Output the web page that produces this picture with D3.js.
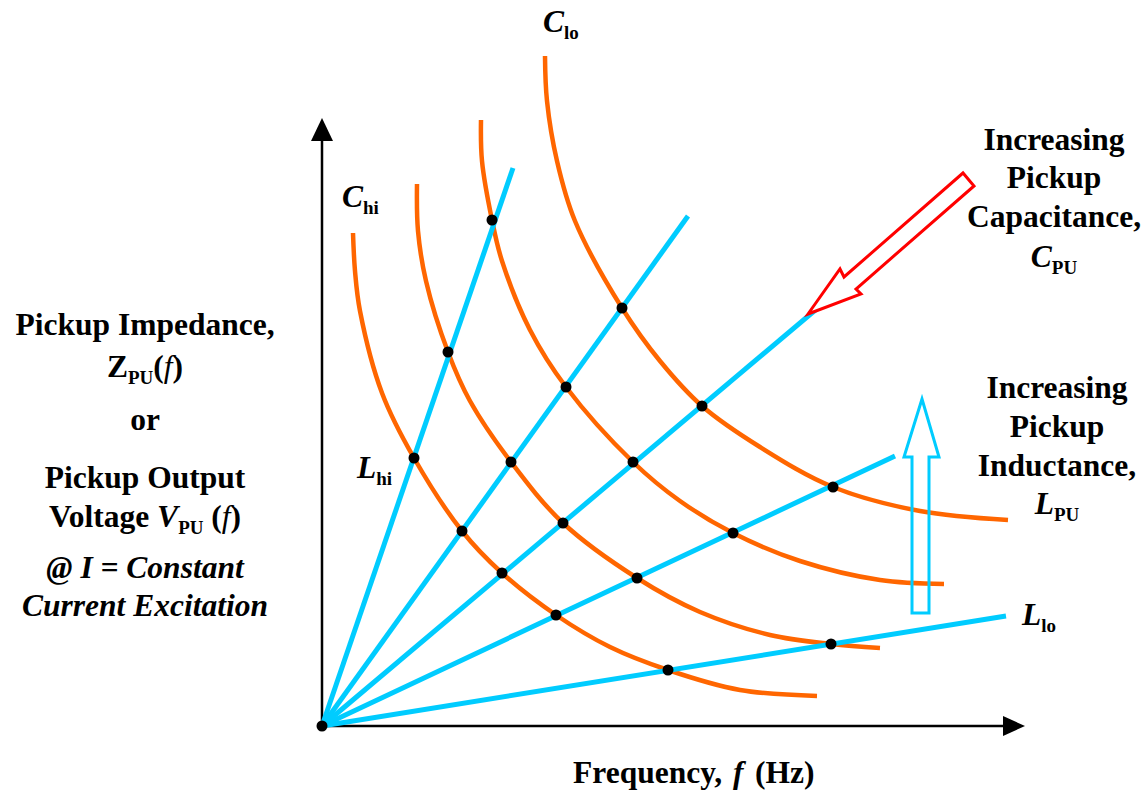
<!DOCTYPE html>
<html>
<head>
<meta charset="utf-8">
<script src="https://cdn.jsdelivr.net/npm/d3@7"></script>
<style>
  body { margin: 0; background: #fff; }
  svg { display: block; }
</style>
</head>
<body>
<div id="chart"></div>
<script>
// Impedance vs frequency sketch: L rays from the origin, C curves, dots at crossings.
// Units are arbitrary (the original sketch has no ticks).

// inductance rays, end point of each (they all start at the origin)
const inductanceNames = ["L_hi", "L2", "L3", "L4", "L_lo"];
const inductanceEnds = [[191, 558], [366, 510], [510, 430], [573, 270], [684, 110]];

// capacitance curves, points read along each one
const capacitanceNames = ["C_hi", "C2", "C3", "C_lo"];
const curveChi = [[31, 493], [33, 455], [38, 415], [60, 333], [92, 268], [140, 195], [180, 153],
                  [234, 111], [288, 79], [346, 56], [418, 36], [495, 30]];
const curveC2 = [[95, 542], [96, 495], [104, 445], [126, 374], [148, 325], [189, 264], [241, 203],
                 [315, 148], [378, 114], [448, 91], [509, 82], [558, 78]];
const curveC3 = [[159, 606], [160, 565], [170, 506], [180, 465], [208, 396], [244, 339], [311, 264],
                 [358, 225], [411, 193], [478, 165], [558, 146], [622, 142]];
const curveClo = [[223, 670], [225, 625], [235, 565], [253, 505], [300, 418], [338, 365], [380, 320],
                  [438, 279], [511, 239], [598, 215], [686, 206]];
const capacitanceCurves = [curveChi, curveC2, curveC3, curveClo];

// crossing points (origin first)
const crossings = [[0, 0],
  [170, 506], [126, 374], [92, 268],
  [300, 418], [244, 339], [189, 264], [140, 195],
  [380, 320], [311, 264], [241, 203], [180, 153],
  [511, 239], [411, 193], [315, 148], [234, 111],
  [509, 82], [346, 56]];

const width = 1146;
const height = 791;
const blue = "#00CCFF";
const orange = "#FF6600";
const serif = "'Liberation Serif', 'Times New Roman', serif";

const svg = d3.select("#chart").append("svg")
  .attr("width", width)
  .attr("height", height);

const x = d3.scaleLinear().domain([0, 700]).range([322, 1022]);
const y = d3.scaleLinear().domain([0, 700]).range([726, 26]);

// axes with arrow heads
svg.append("line")
  .attr("x1", x(0)).attr("y1", y(0)).attr("x2", x(0)).attr("y2", y(586))
  .attr("stroke", "#000").attr("stroke-width", 2.5);
svg.append("path")
  .attr("d", d3.line()([[x(0) - 11, y(585)], [x(0), y(608)], [x(0) + 11, y(585)]]) + "Z")
  .attr("fill", "#000");
svg.append("line")
  .attr("x1", x(0)).attr("y1", y(0)).attr("x2", x(682)).attr("y2", y(0))
  .attr("stroke", "#000").attr("stroke-width", 2.5);
svg.append("path")
  .attr("d", d3.line()([[x(681), y(0) - 10], [x(703), y(0)], [x(681), y(0) + 10]]) + "Z")
  .attr("fill", "#000");

// capacitance curves
const curveLine = d3.line()
  .x(d => x(d[0]))
  .y(d => y(d[1]))
  .curve(d3.curveCatmullRom.alpha(0.5));

svg.append("g")
  .selectAll("path")
  .data(capacitanceCurves)
  .enter().append("path")
  .attr("d", curveLine)
  .attr("fill", "none")
  .attr("stroke", orange)
  .attr("stroke-width", 4.5);

// inductance rays
svg.append("g")
  .selectAll("line")
  .data(inductanceEnds)
  .enter().append("line")
  .attr("x1", x(0))
  .attr("y1", y(0))
  .attr("x2", d => x(d[0]))
  .attr("y2", d => y(d[1]))
  .attr("stroke", blue)
  .attr("stroke-width", 5);

// crossing dots
svg.append("g")
  .selectAll("circle")
  .data(crossings)
  .enter().append("circle")
  .attr("cx", d => x(d[0]))
  .attr("cy", d => y(d[1]))
  .attr("r", 5.5)
  .attr("fill", "#000");

// red hollow arrow (increasing C)
const redArrow = [[486, 412], [518, 457], [522, 449], [641, 553], [652, 540], [534, 437], [539, 432]];
svg.append("path")
  .attr("d", d3.line().x(d => x(d[0])).y(d => y(d[1]))(redArrow) + "Z")
  .attr("fill", "#fff")
  .attr("stroke", "#FF0000")
  .attr("stroke-width", 3);

// blue hollow arrow (increasing L)
const blueArrow = [[590, 113], [607, 113], [607, 269], [617, 269], [600, 327], [582, 269], [590, 269]];
svg.append("path")
  .attr("d", d3.line().x(d => x(d[0])).y(d => y(d[1]))(blueArrow) + "Z")
  .attr("fill", "none")
  .attr("stroke", blue)
  .attr("stroke-width", 3);

////////////////////////////////////////////////////////////////////////
// text labels, parts: [text, options]

function label(px, py, parts, anchor, size) {
  const t = svg.append("text")
    .attr("x", px)
    .attr("y", py)
    .attr("text-anchor", anchor || "middle")
    .attr("font-family", serif)
    .attr("font-weight", "bold")
    .attr("font-size", size || 31.5)
    .attr("fill", "#000");
  parts.forEach(p => {
    const s = t.append("tspan").attr("font-family", serif).text(p.t);
    if (p.it) s.attr("font-style", "italic");
    if (p.normal) s.attr("font-weight", "normal");
    if (p.sub) s.attr("font-size", 19).attr("dy", 7);
    if (p.unsub) s.attr("dy", -7);
    if (p.x != null) s.attr("x", p.x);
  });
  return t;
}

// left block
label(145, 335, [{t: "Pickup Impedance,"}]);
label(145, 377, [{t: "Z"}, {t: "PU", sub: true}, {t: "(", unsub: true}, {t: "f", it: true, normal: true}, {t: ")"}]);
label(145, 430, [{t: "or"}]);
label(145, 488, [{t: "Pickup Output"}]);
label(145, 527, [{t: "Voltage "}, {t: "V", it: true}, {t: "PU", sub: true}, {t: " (", unsub: true}, {t: "f", it: true, normal: true}, {t: ")"}]);
label(145, 578, [{t: "@ I = Constant", it: true}]);
label(145, 616, [{t: "Current Excitation", it: true}]);

// right blocks
label(1054, 150, [{t: "Increasing"}]);
label(1054, 188, [{t: "Pickup"}]);
label(1054, 227, [{t: "Capacitance,"}]);
label(1054, 267, [{t: "C", it: true}, {t: "PU", sub: true}]);

label(1057, 398, [{t: "Increasing"}]);
label(1057, 437, [{t: "Pickup"}]);
label(1057, 476, [{t: "Inductance,"}]);
label(1057, 514, [{t: "L", it: true}, {t: "PU", sub: true}]);

// curve / ray names
label(342, 207, [{t: "C", it: true}, {t: "hi", sub: true}], "start");
label(543, 32, [{t: "C", it: true}, {t: "lo", sub: true}], "start");
label(357, 478, [{t: "L", it: true}, {t: "hi", sub: true}], "start");
label(1022, 625, [{t: "L", it: true}, {t: "lo", sub: true}], "start");

// x axis title
label(573, 783, [{t: "Frequency,"}, {t: "f", it: true, x: 733}, {t: "(Hz)", x: 755}], "start");
</script>
</body>
</html>
